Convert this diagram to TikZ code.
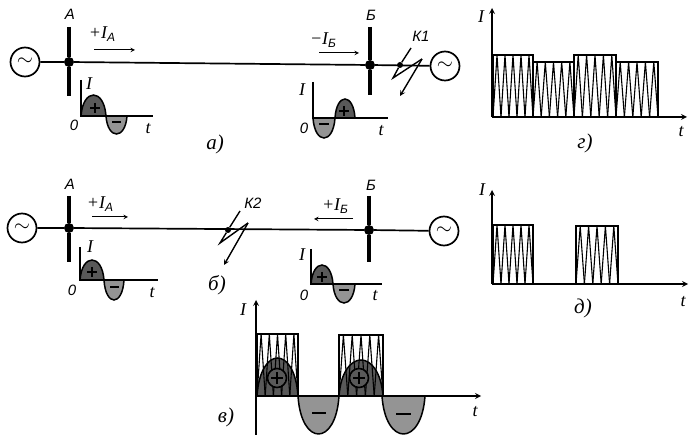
\documentclass[tikz,border=0pt]{standalone}
\usepackage{fontspec}
\setmainfont{Liberation Serif}
\newfontfamily\lblsans{Liberation Sans}
\newcommand{\sublbl}[1]{\raisebox{-3pt}{\fontsize{12}{12}\selectfont\lblsans\itshape #1}}
% half wave: x0, x1, base y, peak y, fill
\newcommand{\halfwave}[5]{
\filldraw [wave, fill=#5] (#1,#3) .. controls ({#1+.08*(#2-#1)},{#3+1.333*(#4-#3)}) and ({#2-.08*(#2-#1)},{#3+1.333*(#4-#3)}) .. (#2,#3) -- cycle;
}
% block of teeth: x0, x1, base y, top y, number of teeth
\newcommand{\teethblock}[5]{
\pgfmathsetmacro\toothw{(#2-#1)/#5}
\draw [toothtop] (#1,#3) -- (#1,#4) -- (#2,#4) -- (#2,#3);
\foreach \k in {1,...,#5} {
\draw [tooth] ({#1+(\k-1)*\toothw},#3) -- ({#1+(\k-.5)*\toothw},#4) -- ({#1+\k*\toothw},#3);
}
}
\tikzset{
gen/.style={draw, fill=white, circle, line width=1.7pt, minimum size=29pt, inner sep=0pt, font=\huge},
dot/.style={circle, fill, inner sep=0pt, minimum size=10pt},
faultdot/.style={circle, fill, inner sep=0pt, minimum size=6pt},
bus/.style={line width=4pt},
wire/.style={line width=1.7pt},
thinarrow/.style={->, line width=1pt},
axis/.style={->, line width=1.6pt},
plainaxis/.style={line width=1.6pt},
wave/.style={line width=1.5pt},
tooth/.style={line width=1.1pt},
toothtop/.style={line width=1.4pt},
bolt/.style={line width=1.4pt},
signmark/.style={line width=1.6pt},
plusdisc/.style={draw, circle, fill=darkwave, line width=1.6pt, minimum size=19pt, inner sep=0pt},
lblI/.style={font=\fontsize{18}{18}\selectfont\itshape, inner sep=0pt},
lblS/.style={font=\fontsize{15}{15}\selectfont\lblsans\itshape, inner sep=0pt},
lblC/.style={font=\fontsize{21}{21}\selectfont\itshape, inner sep=0pt},
}
\colorlet{darkwave}{black!65}
\colorlet{lightwave}{black!42}
\begin{document}
\begin{tikzpicture}[x=1pt, y=-1pt, >=stealth]
\useasboundingbox (0,0) rectangle (697,446);

% network a
\node [gen] (genAa) at (25,62) {$\sim$};
\node [gen] (genBa) at (445,66) {$\sim$};
\node [dot] (busAa) at (69,62) {};
\node [dot] (busBa) at (370,65) {};
\node [faultdot] (faulta) at (400,65) {};
\draw [wire] (genAa) -- (busAa) -- (busBa) -- (genBa);
\draw [bus] (69,27) -- (busAa) -- (69,96);
\draw [bus] (370,27) -- (busBa) -- (370,95);
\draw [bolt] (411,48) -- (faulta) -- (393,78) -- (422,59);
\draw [bolt, ->] (422,59) -- (400,96);
\draw [thinarrow] (94,50) -- (135,50);
\draw [thinarrow] (319,53) -- (359,53);
\node [lblS] (labAa) at (70,14) {А};
\node [lblS] (labBa) at (371,15) {Б};
\node [lblS] (labKa) at (421,36) {К1};
\node [lblI] (labIAa) at (102,34) {+I\sublbl{A}};
\node [lblI] (labIBa) at (323,40) {\textminus I\sublbl{Б}};

% small curves of a
\halfwave{81}{106}{116}{95}{darkwave}
\halfwave{106}{127}{116}{134}{lightwave}
\draw [plainaxis] (81,80) -- (81,116) -- (153,116);
\node [lblI] (labIa) at (89,84) {I};
\node [lblS] (labOa) at (74,125) {0};
\node [lblI] (labta) at (148,129) {t};
\draw [signmark] (90,108) -- (100,108) (95,103) -- (95,113);
\draw [signmark] (112,122) -- (121,122);

\halfwave{313}{335}{118}{138}{lightwave}
\halfwave{335}{355}{118}{99}{darkwave}
\draw [plainaxis] (313,82) -- (313,118) -- (388,118);
\node [lblI] (labIb) at (302,90) {I};
\node [lblS] (labOb) at (304,128) {0};
\node [lblI] (labtb) at (381,131) {t};
\draw [signmark] (339,111) -- (349,111) (344,106) -- (344,116);
\draw [signmark] (319,124) -- (329,124);
\node [lblC] (capa) at (215,144) {а)};

% network b
\node [gen] (genAb) at (22,228) {$\sim$};
\node [gen] (genBb) at (444,231) {$\sim$};
\node [dot] (busAb) at (69,228) {};
\node [dot] (busBb) at (369,230) {};
\node [faultdot] (faultb) at (228,230) {};
\draw [wire] (genAb) -- (busAb) -- (busBb) -- (genBb);
\draw [bus] (69,196) -- (busAb) -- (69,262);
\draw [bus] (369,196) -- (busBb) -- (369,262);
\draw [bolt] (240,211) -- (faultb) -- (220,243) -- (248,223);
\draw [bolt, ->] (248,223) -- (224,265);
\draw [thinarrow] (92,217) -- (128,217);
\draw [thinarrow] (353,219) -- (314,219);
\node [lblS] (labAb) at (70,184) {А};
\node [lblS] (labBb) at (371,185) {Б};
\node [lblS] (labKb) at (253,203) {К2};
\node [lblI] (labIAb) at (100,204) {+I\sublbl{A}};
\node [lblI] (labIBb) at (335,206) {+I\sublbl{Б}};

% small curves of b
\halfwave{80}{104}{280}{260}{darkwave}
\halfwave{104}{124}{280}{300}{lightwave}
\draw [plainaxis] (80,247) -- (80,280) -- (158,280);
\node [lblI] (labIc) at (90,247) {I};
\node [lblS] (labOc) at (72,290) {0};
\node [lblI] (labtc) at (152,293) {t};
\draw [signmark] (87,272) -- (97,272) (92,267) -- (92,277);
\draw [signmark] (110,287) -- (119,287);

\halfwave{311}{333}{284}{265}{darkwave}
\halfwave{333}{355}{284}{303}{lightwave}
\draw [plainaxis] (311,249) -- (311,284) -- (382,284);
\node [lblI] (labId) at (302,255) {I};
\node [lblS] (labOd) at (304,295) {0};
\node [lblI] (labtd) at (375,296) {t};
\draw [signmark] (317,277) -- (327,277) (322,272) -- (322,282);
\draw [signmark] (339,290) -- (349,290);
\node [lblC] (capb) at (217,285) {б)};

% curves v
\halfwave{257}{298}{396}{358}{darkwave}
\halfwave{339}{383}{396}{360}{darkwave}
\halfwave{298}{339}{396}{434}{lightwave}
\halfwave{382}{425}{396}{434}{lightwave}
\teethblock{257}{298}{396}{334}{5}
\teethblock{339}{383}{396}{335}{5}
\draw [axis] (256,435) -- (256,300);
\draw [axis] (256,396) -- (481,396);
\node [plusdisc] (plusv) at (277,378) {};
\node [plusdisc] (plusw) at (359,378) {};
\draw [signmark] (271,378) -- (283,378) (277,372) -- (277,384);
\draw [signmark] (353,378) -- (365,378) (359,372) -- (359,384);
\draw [signmark] (312,413) -- (326,413);
\draw [signmark] (396,414) -- (411,414);
\node [lblI] (labIv) at (243,310) {I};
\node [lblI] (labtv) at (475,412) {t};
\node [lblC] (capv) at (226,417) {в)};

% curves g
\teethblock{493}{533}{117}{55}{5}
\teethblock{533}{574}{117}{62}{5}
\teethblock{574}{616}{117}{55}{5}
\teethblock{616}{658}{117}{62}{5}
\draw [axis] (492,117) -- (492,8);
\draw [axis] (492,117) -- (687,117);
\node [lblI] (labIg) at (481,17) {I};
\node [lblI] (labtg) at (681,132) {t};
\node [lblC] (capg) at (585,143) {г)};

% curves d
\teethblock{493}{533}{284}{225}{5}
\teethblock{576}{618}{284}{226}{5}
\draw [axis] (492,284) -- (492,190);
\draw [axis] (492,284) -- (688,284);
\node [lblI] (labIh) at (482,190) {I};
\node [lblI] (labth) at (683,302) {t};
\node [lblC] (caph) at (583,308) {д)};

\end{tikzpicture}
\end{document}
